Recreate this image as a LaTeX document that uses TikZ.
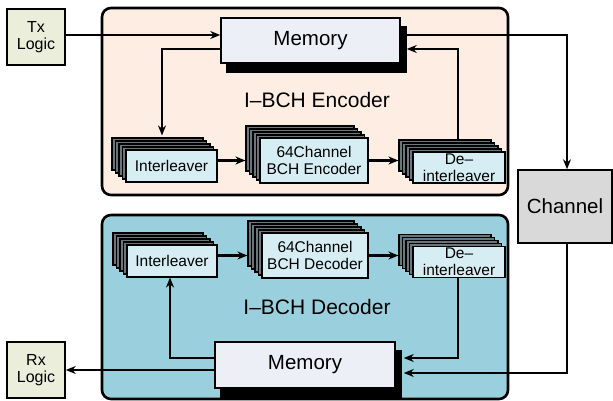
\documentclass[tikz,border=0pt]{standalone}
\usepackage{fontspec}
\setmainfont{Liberation Sans}
\usetikzlibrary{arrows.meta,shadows}

\definecolor{encfill}{RGB}{253,237,226}
\definecolor{decfill}{RGB}{154,208,221}
\definecolor{logicfill}{RGB}{236,238,220}
\definecolor{memfill}{RGB}{236,240,246}
\definecolor{chanfill}{RGB}{217,217,217}
\definecolor{frontfill}{RGB}{214,238,243}
\definecolor{layerfill}{RGB}{105,118,124}

\tikzset{
  layer/.style={general shadow={shadow xshift=-#1*3.5pt, shadow yshift=#1*3pt,
      fill=layerfill, draw=black, line width=1.1pt}},
}

\begin{document}
\begin{tikzpicture}[x=1pt,y=-1pt,
  region/.style={draw=black, line width=2.6pt, rounded corners=9pt, inner sep=0pt},
  logic/.style={draw=black, line width=1.5pt, fill=logicfill, minimum width=58pt,
    minimum height=56pt, inner sep=0pt, align=center, font=\fontsize{16}{17.5}\selectfont},
  memory/.style={draw=black, line width=1.5pt, fill=memfill, minimum width=179pt,
    minimum height=45pt, inner sep=0pt, font=\fontsize{20.5}{22}\selectfont,
    general shadow={shadow xshift=6pt, shadow yshift=-9pt, fill=black, draw=black}},
  stack/.style={draw=black, line width=1.1pt, fill=frontfill, inner sep=0pt,
    align=center, font=\fontsize{15.5}{17}\selectfont,
    layer=4, layer=3, layer=2, layer=1},
  arr/.style={line width=2.6pt, -{Stealth[length=10pt,width=8pt]}}
]
  \useasboundingbox (0,0) rectangle (613,401);

  % Define nodes
  \node[region, fill=encfill, minimum width=406pt, minimum height=187pt] (enc) at (305,101.5) {};
  \node[region, fill=decfill, minimum width=406pt, minimum height=184pt] (dec) at (305,307) {};
  \node[font=\fontsize{21}{24}\selectfont] (enclabel) at (317,100) {I–BCH Encoder};
  \node[font=\fontsize{21}{24}\selectfont] (declabel) at (317,307) {I–BCH Decoder};

  \node[logic] (tx) at (36,37) {Tx\\Logic};
  \node[logic] (rx) at (36,370) {Rx\\Logic};
  \node[draw=black, line width=1.5pt, fill=chanfill, minimum width=94pt, minimum height=73pt,
    inner sep=0pt, font=\fontsize{20.5}{22}\selectfont] (chan) at (565,206.5) {Channel};

  \node[memory] (memenc) at (310.5,40.5) {Memory};
  \node[memory, minimum width=180pt, minimum height=46pt] (memdec) at (305,365) {Memory};

  \node[stack, minimum width=91pt, minimum height=32pt] (intenc) at (171.5,166) {Interleaver};
  \node[stack, minimum width=108pt, minimum height=45pt] (bchenc) at (314,160.5) {64Channel\\BCH Encoder};
  \node[stack, minimum width=92pt, minimum height=31pt] (deienc) at (459,167.5) {De–\\interleaver};

  \node[stack, minimum width=90pt, minimum height=32pt] (intdec) at (172,261) {Interleaver};
  \node[stack, minimum width=106pt, minimum height=45pt] (bchdec) at (315,255.5) {64Channel\\BCH Decoder};
  \node[stack, minimum width=92pt, minimum height=31pt] (deidec) at (459,262) {De–\\interleaver};

  % Connect nodes
  \draw[arr] ([yshift=2pt]tx.east) -- ([yshift=5.5pt]memenc.west);
  \draw[arr] ([yshift=-8.5pt]memenc.west) -| ([xshift=-9.5pt,yshift=14pt]intenc.north);
  \draw[arr] (intenc.east |- bchenc.west) -- ([xshift=-14pt]bchenc.west);
  \draw[arr] (bchenc.east) -- ([xshift=-14pt]deienc.west |- bchenc.east);
  \draw[arr] ([xshift=-1pt,yshift=12pt]deienc.north) |- ([xshift=6pt,yshift=-8.5pt]memenc.east);
  \draw[arr] ([xshift=6pt,yshift=5.5pt]memenc.east) -| ([xshift=2pt]chan.north);

  \draw[arr] ([xshift=2pt]chan.south) |- ([xshift=8pt,yshift=-8pt]memdec.east);
  \draw[arr] ([xshift=-1pt]deidec.south) |- ([xshift=8pt,yshift=7pt]memdec.east);
  \draw[arr] ([yshift=7pt]memdec.west) -| ([xshift=-2pt]intdec.south);
  \draw[arr] (memdec.west |- rx.east) -- (rx.east);
  \draw[arr] (intdec.east |- bchdec.west) -- ([xshift=-14pt]bchdec.west);
  \draw[arr] (bchdec.east) -- ([xshift=-14pt]deidec.west |- bchdec.east);
\end{tikzpicture}
\end{document}
